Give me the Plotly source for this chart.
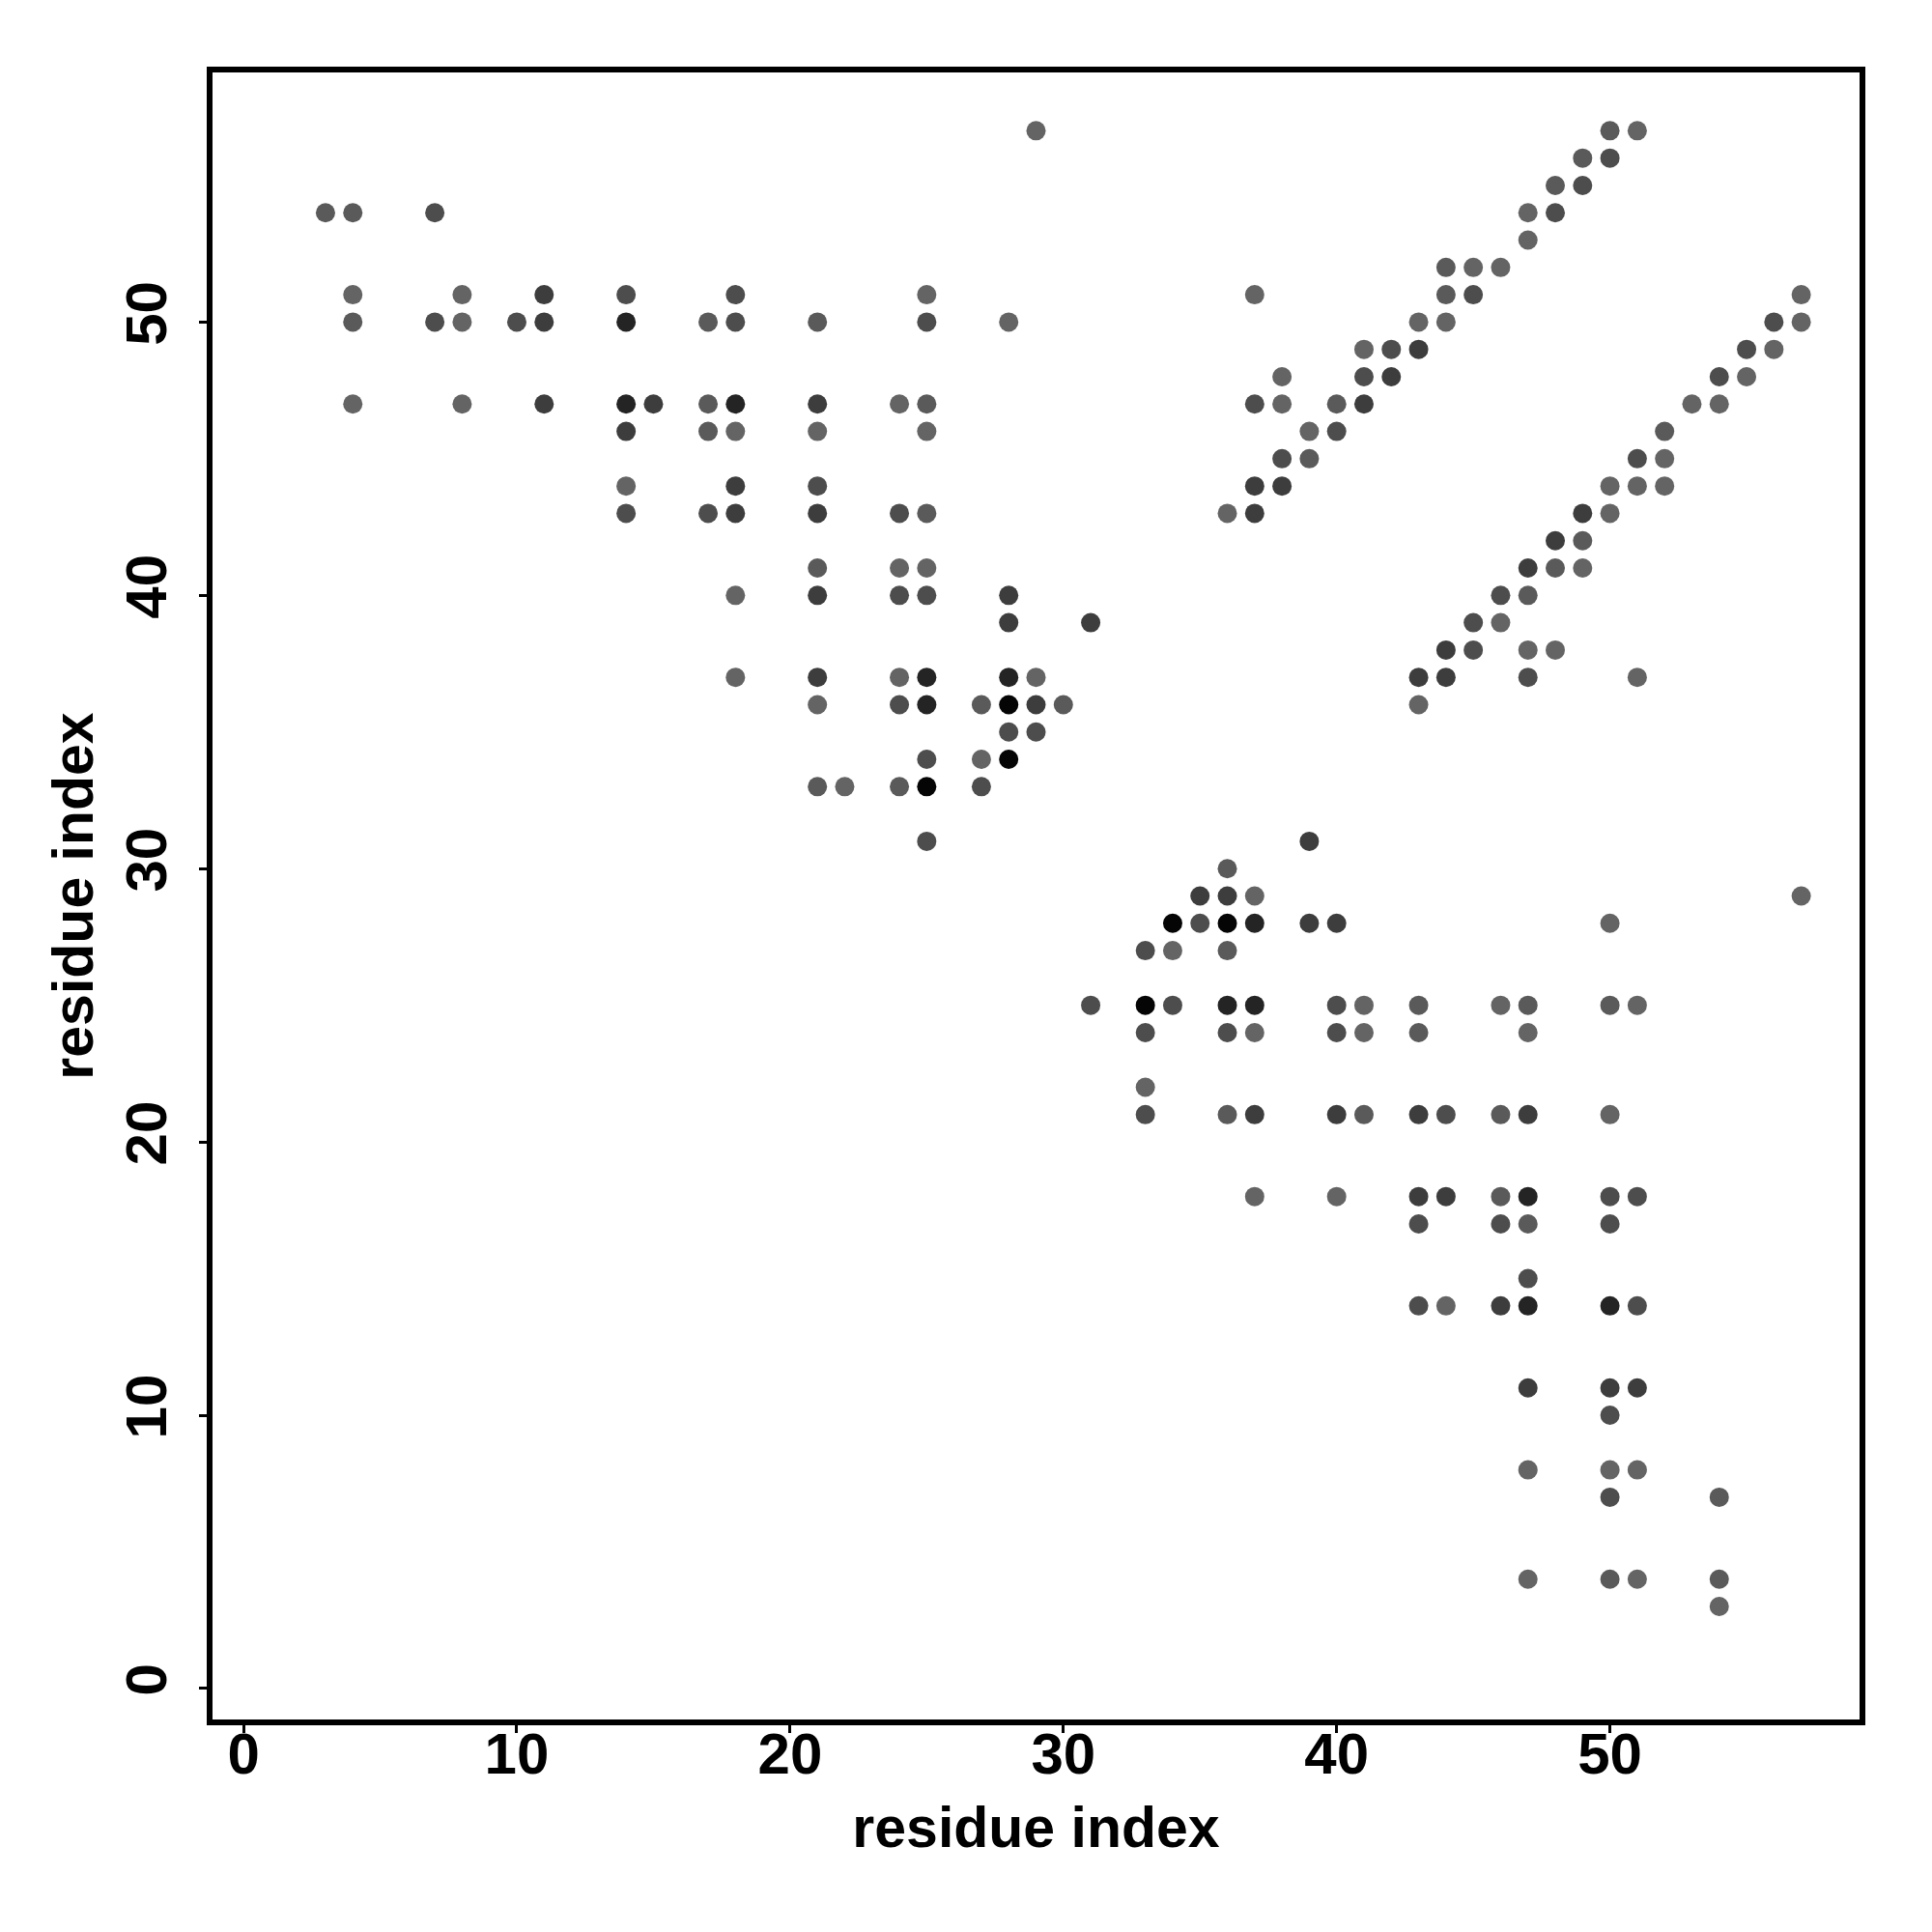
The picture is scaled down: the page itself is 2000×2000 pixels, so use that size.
import plotly.graph_objects as go

# Contact map: residue i (x), residue j (y), contact strength level (1 = weak/light ... 6 = strong/black)
res_x = [
    # upper-left block
    3, 4, 7,
    4, 8, 11, 14, 18, 25,
    4, 7, 8, 10, 11, 14, 17, 18, 21, 25, 28,
    4, 8, 11, 14, 15, 17, 18, 21, 24, 25,
    14, 17, 18, 21, 25,
    14, 18, 21,
    14, 17, 18, 21, 24, 25,
    21, 24, 25,
    18, 21, 24, 25, 28,
    28, 31,
    18, 21, 24, 25, 28, 29,
    21, 24, 25, 27, 28, 29, 30,
    28, 29,
    25, 27, 28,
    21, 22, 24, 25, 27,
    25,
    # upper-right diagonals
    29, 50, 51,
    49, 50,
    48, 49,
    47, 48,
    47,
    44, 45, 46,
    37, 44, 45, 57,
    43, 44, 56, 57,
    41, 42, 43, 55, 56,
    38, 41, 42, 54, 55,
    37, 38, 40, 41, 53, 54,
    39, 40, 52,
    38, 39, 51, 52,
    37, 38, 50, 51, 52,
    36, 37, 49, 50,
    48, 49,
    47, 48, 49,
    46, 47,
    45, 46,
    44, 45, 47, 48,
    43, 44, 47, 51,
    43,
    # lower-right block
    39,
    36,
    35, 36, 37, 57,
    34, 35, 36, 37, 39, 40, 50,
    33, 34, 36,
    31, 33, 34, 36, 37, 40, 41, 43, 46, 47, 50, 51,
    33, 36, 37, 40, 41, 43, 47,
    33,
    33, 36, 37, 40, 41, 43, 44, 46, 47, 50,
    37, 40, 43, 44, 46, 47, 50, 51,
    43, 46, 47, 50,
    47,
    43, 44, 46, 47, 50, 51,
    47, 50, 51,
    50,
    47, 50, 51,
    50, 54,
    47, 50, 51, 54,
    54,
]

res_y = [
    54, 54, 54,
    51, 51, 51, 51, 51, 51,
    50, 50, 50, 50, 50, 50, 50, 50, 50, 50, 50,
    47, 47, 47, 47, 47, 47, 47, 47, 47, 47,
    46, 46, 46, 46, 46,
    44, 44, 44,
    43, 43, 43, 43, 43, 43,
    41, 41, 41,
    40, 40, 40, 40, 40,
    39, 39,
    37, 37, 37, 37, 37, 37,
    36, 36, 36, 36, 36, 36, 36,
    35, 35,
    34, 34, 34,
    33, 33, 33, 33, 33,
    31,
    57, 57, 57,
    56, 56,
    55, 55,
    54, 54,
    53,
    52, 52, 52,
    51, 51, 51, 51,
    50, 50, 50, 50,
    49, 49, 49, 49, 49,
    48, 48, 48, 48, 48,
    47, 47, 47, 47, 47, 47,
    46, 46, 46,
    45, 45, 45, 45,
    44, 44, 44, 44, 44,
    43, 43, 43, 43,
    42, 42,
    41, 41, 41,
    40, 40,
    39, 39,
    38, 38, 38, 38,
    37, 37, 37, 37,
    36,
    31,
    30,
    29, 29, 29, 29,
    28, 28, 28, 28, 28, 28, 28,
    27, 27, 27,
    25, 25, 25, 25, 25, 25, 25, 25, 25, 25, 25, 25,
    24, 24, 24, 24, 24, 24, 24,
    22,
    21, 21, 21, 21, 21, 21, 21, 21, 21, 21,
    18, 18, 18, 18, 18, 18, 18, 18,
    17, 17, 17, 17,
    15,
    14, 14, 14, 14, 14, 14,
    11, 11, 11,
    10,
    8, 8, 8,
    7, 7,
    4, 4, 4, 4,
    3,
]

strength = [
    2, 2, 3,
    1, 1, 4, 3, 3, 1,
    2, 3, 1, 3, 4, 5, 2, 3, 2, 3, 1,
    1, 1, 4, 5, 4, 2, 5, 4, 1, 2,
    4, 2, 1, 1, 1,
    1, 4, 3,
    3, 3, 4, 4, 3, 2,
    2, 1, 1,
    1, 4, 3, 3, 4,
    4, 4,
    1, 4, 1, 5, 5, 1,
    1, 3, 5, 2, 6, 4, 2,
    3, 3,
    3, 1, 6,
    2, 1, 2, 6, 3,
    3,
    1, 2, 1,
    2, 3,
    2, 3,
    1, 3,
    1,
    2, 1, 1,
    1, 2, 3, 1,
    1, 1, 3, 1,
    1, 3, 4, 3, 1,
    1, 3, 4, 3, 1,
    3, 1, 2, 4, 1, 1,
    1, 3, 2,
    3, 2, 3, 1,
    4, 4, 1, 1, 1,
    1, 4, 4, 1,
    4, 2,
    4, 2, 1,
    3, 2,
    3, 1,
    4, 3, 1, 1,
    4, 4, 3, 1,
    1,
    4,
    2,
    4, 4, 1, 1,
    6, 3, 6, 5, 4, 4, 1,
    3, 1, 2,
    3, 6, 3, 5, 5, 3, 1, 2, 1, 2, 2, 1,
    3, 3, 1, 3, 1, 2, 1,
    1,
    3, 2, 4, 4, 2, 4, 3, 2, 4, 1,
    1, 1, 4, 4, 2, 5, 3, 3,
    3, 3, 2, 3,
    3,
    3, 1, 4, 5, 5, 3,
    4, 4, 4,
    3,
    1, 1, 1,
    3, 2,
    1, 2, 1, 2,
    1,
]

tick_vals = [0, 10, 20, 30, 40, 50]
axis_range = [-1.24, 59.24]

grey_scale = [
    [0.0, "#646464"],
    [0.2, "#5a5a5a"],
    [0.4, "#4d4d4d"],
    [0.6, "#3d3d3d"],
    [0.8, "#242424"],
    [1.0, "#050505"],
]

fig = go.Figure(
    go.Scatter(
        x=res_x,
        y=res_y,
        mode="markers",
        marker=dict(
            size=20,
            color=strength,
            colorscale=grey_scale,
            cmin=1,
            cmax=6,
            line=dict(width=0),
            showscale=False,
        ),
        hoverinfo="x+y",
    )
)

font_family = "Liberation Sans, Arial, Helvetica, sans-serif"

axis_common = dict(
    range=axis_range,
    tickvals=tick_vals,
    ticks="outside",
    ticklen=10,
    tickwidth=3,
    tickcolor="black",
    showgrid=False,
    zeroline=False,
    showline=False,
    tickfont=dict(family=font_family, size=60, color="black", weight="bold"),
    title_font=dict(family=font_family, size=59, color="black", weight="bold"),
)

fig.update_layout(
    width=2000,
    height=2000,
    paper_bgcolor="white",
    plot_bgcolor="white",
    margin=dict(l=209, r=80, t=64, b=225),
    showlegend=False,
    xaxis=dict(axis_common, title=dict(text="residue index", standoff=22), ticklabelstandoff=-30),
    yaxis=dict(axis_common, title=dict(text="residue index", standoff=2), tickangle=-90,
               ticklabelstandoff=10),
    shapes=[
        dict(
            type="rect",
            xref="paper",
            yref="paper",
            x0=0,
            y0=0,
            x1=1,
            y1=1,
            line=dict(color="black", width=6),
            fillcolor="rgba(0,0,0,0)",
            layer="above",
        )
    ],
)

fig.write_html("out.html")
